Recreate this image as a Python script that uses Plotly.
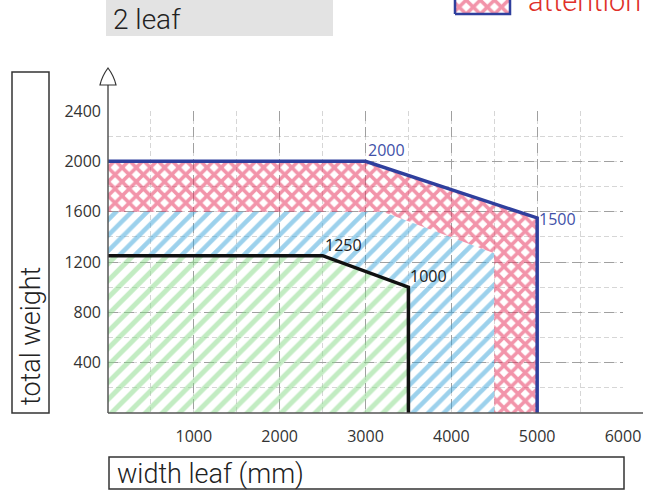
import plotly.graph_objects as go

W, H = 656, 494

# ---- data ----
green_x = [0, 0, 2500, 3500, 3500]
green_y = [0, 1250, 1250, 1000, 0]
blue_x = [0, 0, 3200, 4500, 4500, 3500, 3500, 2500]
blue_y = [1250, 1600, 1600, 1270, 0, 0, 1000, 1250]
pink_x = [0, 0, 3000, 5000, 5000, 4500, 4500, 3200]
pink_y = [1600, 2000, 2000, 1550, 0, 0, 1270, 1600]
black_x = [0, 2500, 3500, 3500]
black_y = [1250, 1250, 1000, 0]
navy_x = [0, 3000, 5000, 5000]
navy_y = [2000, 2000, 1550, 0]
black_labels = ["1250", "1000"]
black_label_x = [2500, 3500]
black_label_y = [1250, 1000]
navy_labels = ["2000", "1500"]
navy_label_x = [3000, 5000]
navy_label_y = [2000, 1550]
x_ticks = [1000, 2000, 3000, 4000, 5000, 6000]
y_ticks = [400, 800, 1200, 1600, 2000, 2400]

GREEN = "#86d986"
LBLUE = "#3aa3da"
PINK = "#e62a55"
NAVY = "#2f3f9d"
NAVY_TXT = "#4151a8"

# plot area in pixels
PX0, PX1 = 108, 623
PY0, PY1 = 111, 413


def px(x):
    return x / W


def py(y):
    return 1 - y / H


fig = go.Figure()


def hatch(xs, ys, shape, color, size, solidity):
    return go.Scatter(
        x=xs + [xs[0]], y=ys + [ys[0]], mode="lines", fill="toself",
        fillcolor="rgba(0,0,0,0)", line=dict(width=0, color="rgba(0,0,0,0)"),
        fillpattern=dict(shape=shape, fgcolor=color, bgcolor="rgba(0,0,0,0)",
                         size=size, solidity=solidity),
        hoverinfo="skip", showlegend=False, xaxis="x", yaxis="y")


fig.add_trace(hatch(green_x, green_y, "/", GREEN, 12, 0.42))
fig.add_trace(hatch(blue_x, blue_y, "/", LBLUE, 11, 0.42))
fig.add_trace(hatch(pink_x, pink_y, "x", PINK, 10, 0.58))

fig.add_trace(go.Scatter(x=black_x, y=black_y, mode="lines",
                         line=dict(color="#111111", width=3.5),
                         showlegend=False, hoverinfo="skip"))
fig.add_trace(go.Scatter(x=navy_x, y=navy_y, mode="lines",
                         line=dict(color=NAVY, width=3.5),
                         showlegend=False, hoverinfo="skip"))

# legend swatch in its own small axes
fig.add_trace(go.Scatter(x=[0, 1, 1, 0, 0], y=[0, 0, 5, 5, 0], mode="lines",
                         fill="toself", fillcolor="rgba(0,0,0,0)",
                         line=dict(color=NAVY, width=2.5),
                         fillpattern=dict(shape="x", fgcolor=PINK, bgcolor="rgba(0,0,0,0)",
                                          size=10, solidity=0.58),
                         showlegend=False, hoverinfo="skip",
                         xaxis="x2", yaxis="y2"))

tickfont = dict(family="Open Sans", size=16, color="#333333")

fig.update_layout(
    width=W, height=H, autosize=False,
    margin=dict(l=0, r=0, t=0, b=0, pad=0, autoexpand=False),
    paper_bgcolor="white", plot_bgcolor="white",
    xaxis=dict(domain=[px(PX0), px(PX1)], range=[0, 6000], tickvals=x_ticks,
               showgrid=True, gridcolor="#a0a0a0", griddash="10px,6px", gridwidth=1,
               minor=dict(dtick=500, tick0=0, showgrid=True, gridcolor="#d6d6d6",
                          griddash="5px,3px", gridwidth=1),
               zeroline=False, showline=False, ticks="", tickfont=tickfont,
               ticklabelstandoff=12, fixedrange=True, automargin=False),
    yaxis=dict(domain=[py(PY1), py(PY0)], range=[0, 2400], tickvals=y_ticks,
               showgrid=True, gridcolor="#a0a0a0", griddash="10px,6px", gridwidth=1,
               minor=dict(dtick=200, tick0=0, showgrid=True, gridcolor="#d6d6d6",
                          griddash="5px,3px", gridwidth=1),
               zeroline=False, showline=False, ticks="", tickfont=tickfont,
               ticklabelstandoff=6, fixedrange=True, automargin=False),
    xaxis2=dict(domain=[px(452), px(513)], range=[-3 / 55, 58 / 55], visible=False,
                fixedrange=True, anchor="y2", automargin=False),
    yaxis2=dict(domain=[py(16), 1], range=[-2 / 14, 14 / 14], visible=False,
                fixedrange=True, anchor="x2", automargin=False),
)

shapes = []
# axis lines (extend beyond the grid)
shapes.append(dict(type="line", xref="paper", yref="paper",
                   x0=px(PX0), x1=px(643), y0=py(PY1), y1=py(PY1),
                   line=dict(color="#555555", width=1.5)))
shapes.append(dict(type="line", xref="paper", yref="paper",
                   x0=px(PX0), x1=px(PX0), y0=py(PY1), y1=py(85),
                   line=dict(color="#555555", width=1.5)))
# hollow arrow head
ax = px(PX0)
shapes.append(dict(type="path", xref="paper", yref="paper",
                   path=f"M {ax - 8 / W},{py(85)} Q {ax - 6 / W},{py(76)} {ax},{py(68)} "
                        f"Q {ax + 6 / W},{py(76)} {ax + 8 / W},{py(85)} Z",
                   line=dict(color="#333333", width=1.2), fillcolor="white"))
# title box "2 leaf"
shapes.append(dict(type="rect", xref="paper", yref="paper",
                   x0=px(106), x1=px(333), y0=py(36), y1=1.0,
                   fillcolor="#e3e3e3", line=dict(width=0), layer="below"))
# y title box
shapes.append(dict(type="rect", xref="paper", yref="paper",
                   x0=px(12), x1=px(49), y0=py(413), y1=py(72),
                   fillcolor="rgba(0,0,0,0)", line=dict(color="#333333", width=1.5)))
# x title box
shapes.append(dict(type="rect", xref="paper", yref="paper",
                   x0=px(109), x1=px(624), y0=py(489), y1=py(457),
                   fillcolor="rgba(0,0,0,0)", line=dict(color="#333333", width=1.5)))
fig.update_layout(shapes=shapes)

titlefont = dict(family="Roboto", size=27, color="#222222", weight=300)
ann = []
ann.append(dict(text="2 leaf", xref="paper", yref="paper", x=px(111), y=py(38.5),
                xanchor="left", yanchor="bottom", showarrow=False,
                font=dict(family="Roboto", size=28, color="#222222", weight=300)))
ann.append(dict(text="attention", xref="paper", yref="paper", x=px(526), y=py(20),
                xanchor="left", yanchor="bottom", showarrow=False,
                font=dict(family="Roboto", size=29, color="#e0302a", weight=300)))
ann.append(dict(text="total weight", xref="paper", yref="paper", x=px(31), y=py(407),
                xanchor="center", yanchor="bottom", textangle=-90, showarrow=False,
                font=titlefont))
ann.append(dict(text="width leaf (mm)", xref="paper", yref="paper", x=px(115), y=py(474),
                xanchor="left", yanchor="middle", showarrow=False, font=titlefont))

lblfont = dict(family="Open Sans", size=16, color="#222222")
for t, x, y in zip(black_labels, black_label_x, black_label_y):
    ann.append(dict(text=t, x=x, y=y, xref="x", yref="y", xanchor="left",
                    yanchor="bottom", xshift=0, yshift=-2, showarrow=False, font=lblfont))
navyfont = dict(family="Open Sans", size=16, color=NAVY_TXT)
ann.append(dict(text=navy_labels[0], x=navy_label_x[0], y=navy_label_y[0], xref="x", yref="y",
                xanchor="left", yanchor="bottom", yshift=-2, showarrow=False, font=navyfont))
ann.append(dict(text=navy_labels[1], x=navy_label_x[1], y=navy_label_y[1], xref="x", yref="y",
                xanchor="left", yanchor="middle", xshift=0, yshift=-1, showarrow=False,
                font=navyfont))
fig.update_layout(annotations=ann)

fig.write_html("out.html", config={"displayModeBar": False},
               post_script="document.body.style.margin='0';document.body.style.overflow='hidden';")
